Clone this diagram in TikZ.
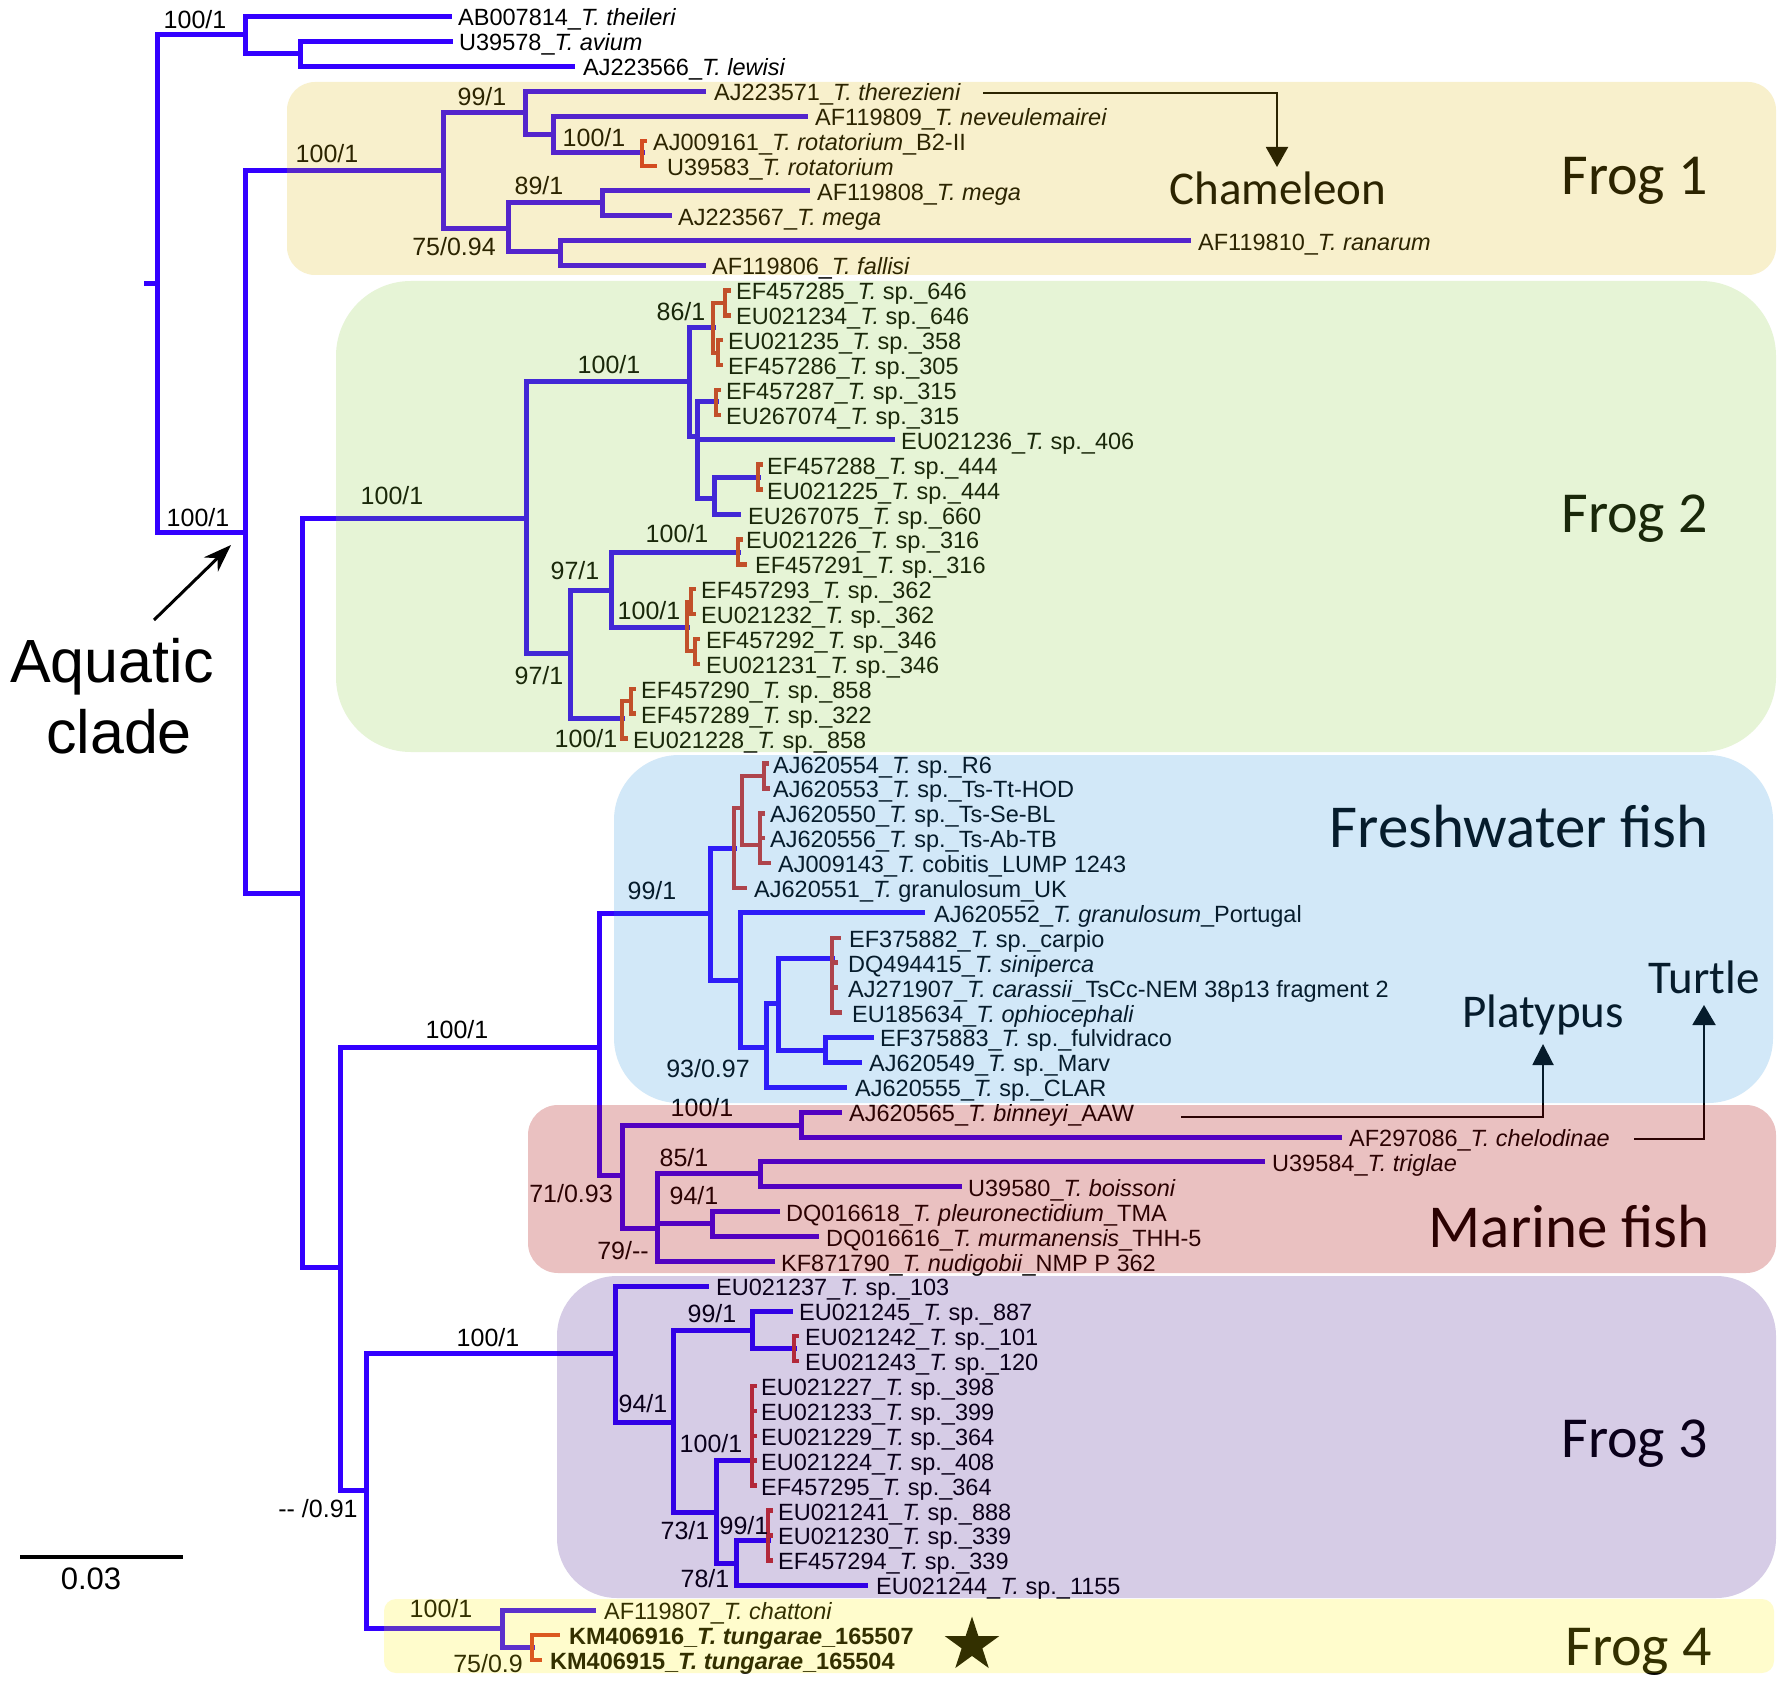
\documentclass[tikz,border=0pt]{standalone}
\usepackage{fontspec}
\setmainfont{Liberation Sans}
\newfontfamily\calib{Carlito}
\usetikzlibrary{arrows.meta,shapes.geometric}
\newcommand\bY[1]{(16.5+24.9*(#1-1))}
\newcommand\tY[1]{(26+24.9*(#1-1))}
\definecolor{treeblue}{RGB}{51,0,255}
\definecolor{treered}{RGB}{210,50,40}
\definecolor{cFa}{RGB}{220,180,0}
\definecolor{cFb}{RGB}{130,200,50}
\definecolor{cFW}{RGB}{30,140,220}
\definecolor{cMF}{RGB}{175,11,11}
\definecolor{cFc}{RGB}{50,0,130}
\definecolor{cFd}{RGB}{255,240,0}
\begin{document}
\begin{tikzpicture}[x=1pt,y=-1pt,
  br/.style={draw=treeblue,line width=5pt,line cap=rect,line join=miter},
  rbr/.style={draw=treered,line width=4.5pt,line cap=rect,line join=miter},
  tax/.style={anchor=base west,inner sep=0pt,font=\fontsize{23.5}{26}\selectfont},
  bs/.style={anchor=base,inner sep=0pt,font=\fontsize{25}{27}\selectfont},
  grp/.style={anchor=base east,inner sep=0pt,font=\calib\fontsize{58}{62}\selectfont},
  fishgrp/.style={anchor=base east,inner sep=0pt,font=\calib\fontsize{61}{64}\selectfont},
  hostlab/.style={anchor=base,inner sep=0pt,font=\calib\fontsize{47}{50}\selectfont},
  ptr/.style={draw=black,line width=2pt},
  clbox/.style={fill=#1,fill opacity=0.2,draw=none}]
\useasboundingbox (0,0) rectangle (1781,1685);
\fill[white] (0,0) rectangle (1781,1685);

% ---------- internal nodes ----------
\coordinate (rootstub) at (146,284);
\coordinate (R) at (157,284);
\coordinate (A) at (245,35);
\coordinate (A2) at (300,54);
\coordinate (B) at (245,532);
\coordinate (F1) at (443,171);
\coordinate (F1a) at (525,113);
\coordinate (F1c) at (553,135);
\coordinate (F1d) at (642,153);
\coordinate (F1b) at (508,229);
\coordinate (F1e) at (602,203);
\coordinate (F1f) at (560,252);
\coordinate (C) at (302,893);
\coordinate (F2) at (526,518);
\coordinate (F2a) at (689,382);
\coordinate (F2c) at (713,328);
\coordinate (F2c1) at (725,303);
\coordinate (F2c2) at (718,353);
\coordinate (F2d) at (697,437);
\coordinate (F2e) at (716,402);
\coordinate (F2f) at (714,498);
\coordinate (F2g) at (758,477);
\coordinate (F2b) at (570,653);
\coordinate (F2h) at (611,590);
\coordinate (F2j) at (738,552);
\coordinate (F2k) at (687,627);
\coordinate (F2k1) at (691,602);
\coordinate (F2k2) at (695,651);
\coordinate (F2i) at (622,718);
\coordinate (F2i1) at (631,701);
\coordinate (D) at (340,1267);
\coordinate (E) at (599,1047);
\coordinate (FW) at (710,913);
\coordinate (FWa) at (734,848);
\coordinate (FWa1) at (742,808);
\coordinate (FWa2) at (764,776);
\coordinate (FWa3) at (760,845);
\coordinate (FWb) at (740,980);
\coordinate (FWc) at (766,1047);
\coordinate (FWd) at (778,1003);
\coordinate (FWe) at (832,958);
\coordinate (FWf) at (825,1050);
\coordinate (M) at (622,1175);
\coordinate (Ma) at (801,1125);
\coordinate (Mb) at (657,1228);
\coordinate (Mc) at (760,1173);
\coordinate (Md) at (712,1223);
\coordinate (G) at (366,1490);
\coordinate (F3) at (615,1353);
\coordinate (F3a) at (673,1422);
\coordinate (F3b) at (752,1330);
\coordinate (F3d) at (794,1348);
\coordinate (F3c) at (716,1512);
\coordinate (F3e) at (752,1460);
\coordinate (F3f) at (736,1563);
\coordinate (F3g) at (768,1540);
\coordinate (F4) at (502,1628);
\coordinate (F4a) at (532,1647);

% ---------- tips ----------
\foreach \k/\x in {1/449,2/450,3/572,4/703,5/805,6/645,7/655,8/807,9/669,10/1188,11/703,
  12/729,13/729,14/721,15/721,16/719,17/719,18/892,19/761,20/761,21/738,22/741,23/745,
  24/694,25/694,26/698,27/698,28/634,29/634,30/626,31/767,32/768,33/763,34/763,35/769,
  36/745,37/922,38/839,39/836,40/836,41/840,42/871,43/859,44/844,45/839,46/1339,47/1262,
  48/959,49/777,50/816,51/772,52/706,53/790,54/797,55/797,56/755,57/755,58/755,59/755,
  60/755,61/771,62/771,63/771,64/865,65/593,66/558,67/540}
  {\coordinate (t\k) at (\x,{\bY{\k}});}

% ---------- blue branches ----------
\draw[br] (rootstub) -- (R);
\foreach \p/\c in {R/A,R/B,A/t1,A/A2,A2/t2,A2/t3,B/F1,B/C,F1/F1a,F1/F1b,F1a/t4,F1a/F1c,
  F1c/t5,F1c/F1d,F1b/F1e,F1b/F1f,F1e/t8,F1e/t9,F1f/t10,F1f/t11,C/F2,C/D,F2/F2a,F2/F2b,
  F2a/F2c,F2a/F2d,F2d/F2e,F2d/t18,F2d/F2f,F2f/F2g,F2f/t21,F2b/F2h,F2b/F2i,F2h/F2j,F2h/F2k,
  D/E,D/G,E/FW,E/M,FW/FWa,FW/FWb,FWb/t37,FWb/FWc,FWc/FWd,FWc/t44,FWd/FWe,FWd/FWf,
  FWf/t42,FWf/t43,M/Ma,M/Mb,Ma/t45,Ma/t46,Mb/Mc,Mb/Md,Mb/t51,Mc/t47,Mc/t48,Md/t49,Md/t50,
  G/F3,G/F4,F3/t52,F3/F3a,F3a/F3b,F3a/F3c,F3b/t53,F3b/F3d,F3c/F3e,F3c/F3f,F3f/F3g,F3f/t64,
  F4/t65,F4/F4a}
  {\draw[br] (\p) |- (\c);}

% ---------- red branches ----------
\foreach \p/\c in {F1d/t6,F1d/t7,F2c/F2c1,F2c/F2c2,F2c1/t12,F2c1/t13,F2c2/t14,F2c2/t15,
  F2e/t16,F2e/t17,F2g/t19,F2g/t20,F2j/t22,F2j/t23,F2k/F2k1,F2k/F2k2,F2k1/t24,F2k1/t25,
  F2k2/t26,F2k2/t27,F2i/F2i1,F2i/t30,F2i1/t28,F2i1/t29,FWa/FWa1,FWa/t36,FWa1/FWa2,
  FWa1/FWa3,FWa2/t31,FWa2/t32,FWa3/t33,FWa3/t34,FWa3/t35,FWe/t38,FWe/t39,FWe/t40,FWe/t41,
  F3d/t54,F3d/t55,F3e/t56,F3e/t57,F3e/t58,F3e/t59,F3e/t60,F3g/t61,F3g/t62,F3g/t63,
  F4a/t66,F4a/t67}
  {\draw[rbr] (\p) |- (\c);}

% ---------- taxon labels ----------
\node[tax] (L1) at (458,{\tY{1}}) {AB007814\_\textit{T. theileri}};
\node[tax] (L2) at (459,{\tY{2}}) {U39578\_\textit{T. avium}};
\node[tax] (L3) at (583,{\tY{3}}) {AJ223566\_\textit{T. lewisi}};
\node[tax] (L4) at (714,{\tY{4}}) {AJ223571\_\textit{T. therezieni}};
\node[tax] (L5) at (815,{\tY{5}}) {AF119809\_\textit{T. neveulemairei}};
\node[tax] (L6) at (653,{\tY{6}}) {AJ009161\_\textit{T. rotatorium}\_B2-II};
\node[tax] (L7) at (667,{\tY{7}}) {U39583\_\textit{T. rotatorium}};
\node[tax] (L8) at (817,{\tY{8}}) {AF119808\_\textit{T. mega}};
\node[tax] (L9) at (678,{\tY{9}}) {AJ223567\_\textit{T. mega}};
\node[tax] (L10) at (1198,{\tY{10}}) {AF119810\_\textit{T. ranarum}};
\node[tax] (L11) at (712,{\tY{11}}) {AF119806\_\textit{T. fallisi}};
\node[tax] (L12) at (736,{\tY{12}}) {EF457285\_\textit{T.} sp.\_646};
\node[tax] (L13) at (736,{\tY{13}}) {EU021234\_\textit{T.} sp.\_646};
\node[tax] (L14) at (728,{\tY{14}}) {EU021235\_\textit{T.} sp.\_358};
\node[tax] (L15) at (728,{\tY{15}}) {EF457286\_\textit{T.} sp.\_305};
\node[tax] (L16) at (726,{\tY{16}}) {EF457287\_\textit{T.} sp.\_315};
\node[tax] (L17) at (726,{\tY{17}}) {EU267074\_\textit{T.} sp.\_315};
\node[tax] (L18) at (901,{\tY{18}}) {EU021236\_\textit{T.} sp.\_406};
\node[tax] (L19) at (767,{\tY{19}}) {EF457288\_\textit{T.} sp.\_444};
\node[tax] (L20) at (767,{\tY{20}}) {EU021225\_\textit{T.} sp.\_444};
\node[tax] (L21) at (748,{\tY{21}}) {EU267075\_\textit{T.} sp.\_660};
\node[tax] (L22) at (746,{\tY{22}}) {EU021226\_\textit{T.} sp.\_316};
\node[tax] (L23) at (755,{\tY{23}}) {EF457291\_\textit{T.} sp.\_316};
\node[tax] (L24) at (701,{\tY{24}}) {EF457293\_\textit{T.} sp.\_362};
\node[tax] (L25) at (701,{\tY{25}}) {EU021232\_\textit{T.} sp.\_362};
\node[tax] (L26) at (706,{\tY{26}}) {EF457292\_\textit{T.} sp.\_346};
\node[tax] (L27) at (706,{\tY{27}}) {EU021231\_\textit{T.} sp.\_346};
\node[tax] (L28) at (641,{\tY{28}}) {EF457290\_\textit{T.} sp.\_858};
\node[tax] (L29) at (641,{\tY{29}}) {EF457289\_\textit{T.} sp.\_322};
\node[tax] (L30) at (633,{\tY{30}}) {EU021228\_\textit{T.} sp.\_858};
\node[tax] (L31) at (773,{\tY{31}}) {AJ620554\_\textit{T.} sp.\_R6};
\node[tax] (L32) at (773,{\tY{32}}) {AJ620553\_\textit{T.} sp.\_Ts-Tt-HOD};
\node[tax] (L33) at (770,{\tY{33}}) {AJ620550\_\textit{T.} sp.\_Ts-Se-BL};
\node[tax] (L34) at (770,{\tY{34}}) {AJ620556\_\textit{T.} sp.\_Ts-Ab-TB};
\node[tax] (L35) at (778,{\tY{35}}) {AJ009143\_\textit{T.} cobitis\_LUMP 1243};
\node[tax] (L36) at (754,{\tY{36}}) {AJ620551\_\textit{T.} granulosum\_UK};
\node[tax] (L37) at (934,{\tY{37}}) {AJ620552\_\textit{T. granulosum}\_Portugal};
\node[tax] (L38) at (849,{\tY{38}}) {EF375882\_\textit{T.} sp.\_carpio};
\node[tax] (L39) at (848,{\tY{39}}) {DQ494415\_\textit{T. siniperca}};
\node[tax] (L40) at (848,{\tY{40}}) {AJ271907\_\textit{T. carassii}\_TsCc-NEM 38p13 fragment 2};
\node[tax] (L41) at (852,{\tY{41}}) {EU185634\_\textit{T. ophiocephali}};
\node[tax] (L42) at (880,{\tY{42}}) {EF375883\_\textit{T.} sp.\_fulvidraco};
\node[tax] (L43) at (869,{\tY{43}}) {AJ620549\_\textit{T.} sp.\_Marv};
\node[tax] (L44) at (855,{\tY{44}}) {AJ620555\_\textit{T.} sp.\_CLAR};
\node[tax] (L45) at (849,{\tY{45}}) {AJ620565\_\textit{T. binneyi}\_AAW};
\node[tax] (L46) at (1349,{\tY{46}}) {AF297086\_\textit{T. chelodinae}};
\node[tax] (L47) at (1272,{\tY{47}}) {U39584\_\textit{T. triglae}};
\node[tax] (L48) at (968,{\tY{48}}) {U39580\_\textit{T. boissoni}};
\node[tax] (L49) at (786,{\tY{49}}) {DQ016618\_\textit{T. pleuronectidium}\_TMA};
\node[tax] (L50) at (826,{\tY{50}}) {DQ016616\_\textit{T. murmanensis}\_THH-5};
\node[tax] (L51) at (781,{\tY{51}}) {KF871790\_\textit{T. nudigobii}\_NMP P 362};
\node[tax] (L52) at (716,{\tY{52}}) {EU021237\_\textit{T.} sp.\_103};
\node[tax] (L53) at (799,{\tY{53}}) {EU021245\_\textit{T.} sp.\_887};
\node[tax] (L54) at (805,{\tY{54}}) {EU021242\_\textit{T.} sp.\_101};
\node[tax] (L55) at (805,{\tY{55}}) {EU021243\_\textit{T.} sp.\_120};
\node[tax] (L56) at (761,{\tY{56}}) {EU021227\_\textit{T.} sp.\_398};
\node[tax] (L57) at (761,{\tY{57}}) {EU021233\_\textit{T.} sp.\_399};
\node[tax] (L58) at (761,{\tY{58}}) {EU021229\_\textit{T.} sp.\_364};
\node[tax] (L59) at (761,{\tY{59}}) {EU021224\_\textit{T.} sp.\_408};
\node[tax] (L60) at (761,{\tY{60}}) {EF457295\_\textit{T.} sp.\_364};
\node[tax] (L61) at (778,{\tY{61}}) {EU021241\_\textit{T.} sp.\_888};
\node[tax] (L62) at (778,{\tY{62}}) {EU021230\_\textit{T.} sp.\_339};
\node[tax] (L63) at (778,{\tY{63}}) {EF457294\_\textit{T.} sp.\_339};
\node[tax] (L64) at (876,{\tY{64}}) {EU021244\_\textit{T.} sp.\_1155};
\node[tax] (L65) at (604,{\tY{65}}) {AF119807\_\textit{T. chattoni}};
\node[tax] (L66) at (569,{\tY{66}}) {\textbf{KM406916\_\textit{T. tungarae}\_165507}};
\node[tax] (L67) at (550,{\tY{67}}) {\textbf{KM406915\_\textit{T. tungarae}\_165504}};

% ---------- support values ----------
\node[bs] (s1) at (195,29) {100/1};
\node[bs] (s2) at (198,526) {100/1};
\node[bs] (s3) at (327,163) {100/1};
\node[bs] (s4) at (482,106) {99/1};
\node[bs] (s5) at (594,147) {100/1};
\node[bs] (s6) at (539,195) {89/1};
\node[bs] (s7) at (454,256) {75/0.94};
\node[bs] (s8) at (392,504) {100/1};
\node[bs] (s9) at (609,374) {100/1};
\node[bs] (s10) at (681,321) {86/1};
\node[bs] (s11) at (575,579) {97/1};
\node[bs] (s12) at (539,684) {97/1};
\node[bs] (s13) at (677,542) {100/1};
\node[bs] (s14) at (649,619) {100/1};
\node[bs] (s15) at (586,747) {100/1};
\node[bs] (s16) at (457,1038) {100/1};
\node[bs] (s17) at (652,899) {99/1};
\node[bs] (s18) at (708,1077) {93/0.97};
\node[bs] (s19) at (571,1202) {71/0.93};
\node[bs] (s20) at (702,1116) {100/1};
\node[bs] (s21) at (684,1166) {85/1};
\node[bs] (s22) at (694,1204) {94/1};
\node[bs] (s23) at (623,1259) {79/-{}-};
\node[bs] (s24) at (318,1517) {-{}- /0.91};
\node[bs] (s25) at (488,1346) {100/1};
\node[bs] (s26) at (441,1617) {100/1};
\node[bs] (s27) at (488,1672) {75/0.9};
\node[bs] (s28) at (643,1412) {94/1};
\node[bs] (s29) at (712,1322) {99/1};
\node[bs] (s30) at (711,1452) {100/1};
\node[bs] (s31) at (685,1539) {73/1};
\node[bs] (s32) at (705,1587) {78/1};
\node[bs] (s33) at (744,1534) {99/1};

% ---------- group and host labels ----------
\node[grp] (g1) at (1708,195) {Frog 1};
\node[grp] (g2) at (1708,532) {Frog 2};
\node[fishgrp] (g3) at (1709,847) {Freshwater fish};
\node[fishgrp] (g4) at (1710,1247) {Marine fish};
\node[grp] (g5) at (1708,1457) {Frog 3};
\node[grp] (g6) at (1712,1665) {Frog 4};
\node[hostlab] (cham) at (1278,205) {Chameleon};
\node[hostlab] (plat) at (1543,1027) {Platypus};
\node[hostlab] (turt) at (1704,993) {Turtle};
\node[anchor=base,inner sep=0pt,font=\fontsize{61}{64}\selectfont] (aqa) at (112,682) {Aquatic};
\node[anchor=base,inner sep=0pt,font=\fontsize{61}{64}\selectfont] (aqb) at (119,753) {clade};

% ---------- pointers ----------
\coordinate (cham0) at (983,93);
\coordinate (chamtip) at (1277,167);
\draw[ptr,-{Triangle[width=22pt,length=20pt]}] (cham0) -| (chamtip);
\coordinate (plat0) at (1181,1117);
\coordinate (plattip) at (1543,1044);
\draw[ptr,-{Triangle[width=21pt,length=21pt]}] (plat0) -| (plattip);
\coordinate (turt0) at (1634,1139);
\coordinate (turttip) at (1704,1005);
\draw[ptr,-{Triangle[width=23pt,length=20pt]}] (turt0) -| (turttip);
\coordinate (aq0) at (154,620);
\coordinate (aqtip) at (231,545);
\draw[line width=3pt,-{Stealth[length=28pt,width=20pt]}] (aq0) -- (aqtip);

% ---------- star and scale bar ----------
\node[star,star points=5,star point ratio=2.618,fill=black,draw=none,inner sep=0pt,minimum size=57pt] (star) at (972,1645) {};
\coordinate (sb0) at (20,1557);
\coordinate (sb1) at (183,1557);
\draw[line width=4pt] (sb0) -- (sb1);
\node[anchor=base,inner sep=0pt,font=\fontsize{31}{33}\selectfont] (sbl) at (91,1589) {0.03};

% ---------- translucent clade boxes ----------
\path[clbox=cFa,rounded corners=28pt] (287,82) rectangle (1776,275);
\path[clbox=cFb,rounded corners=75pt] (336,281) rectangle (1776,752);
\path[clbox=cFW,rounded corners=65pt] (614,755) rectangle (1773,1103);
\path[clbox=cMF,fill opacity=0.25,rounded corners=30pt] (528,1105) rectangle (1776,1273);
\path[clbox=cFc,rounded corners=60pt] (557,1276) rectangle (1776,1598);
\path[clbox=cFd,rounded corners=12pt] (384,1599) rectangle (1774,1673);
\end{tikzpicture}
\end{document}
